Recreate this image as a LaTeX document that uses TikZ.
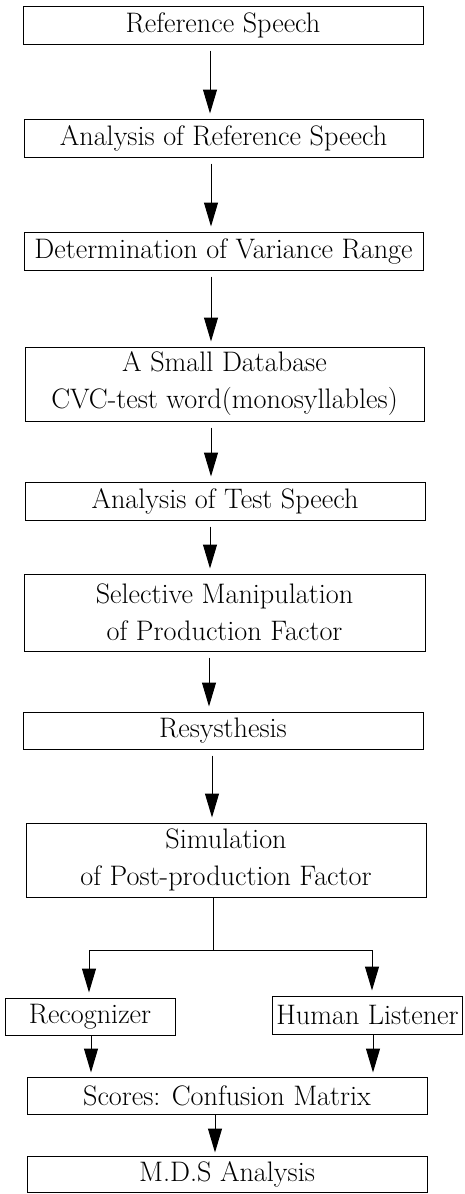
\documentclass[tikz,border=0pt]{standalone}
\usetikzlibrary{arrows.meta}
\begin{document}
\begin{tikzpicture}[x=1pt,y=-1pt,
  box/.style={draw,line width=1pt,inner sep=0pt,align=center,
    font=\fontsize{28.2}{37}\selectfont},
  arr/.style={line width=1pt,-{Triangle[length=24pt,width=14pt]},shorten <=6pt,shorten >=5pt},
  ln/.style={line width=1pt}]
\useasboundingbox (0,0) rectangle (464,1194);
\node[box,minimum width=400pt,minimum height=38pt] (b1) at (223,25) {Reference Speech};
\node[box,minimum width=399pt,minimum height=38pt] (b2) at (223.5,138) {Analysis of Reference Speech};
\node[box,minimum width=399pt,minimum height=38pt] (b3) at (223.5,251) {Determination of Variance Range};
\node[box,minimum width=399pt,minimum height=74pt] (b4) at (224.5,384) {A Small Database\\CVC-test word(monosyllables)};
\node[box,minimum width=400pt,minimum height=38pt] (b5) at (225,501) {Analysis of Test Speech};
\node[box,minimum width=401pt,minimum height=77pt] (b6) at (224.5,612.5) {Selective Manipulation\\of Production Factor};
\node[box,minimum width=400pt,minimum height=37pt] (b7) at (223,730.5) {Resysthesis};
\node[box,minimum width=400pt,minimum height=74pt] (b8) at (226,860) {Simulation\\of Post-production Factor};
\node[box,minimum width=170pt,minimum height=37pt] (rec) at (90,1016.5) {Recognizer};
\node[box,minimum width=190pt,minimum height=38pt] (hum) at (367.5,1015) {Human Listener};
\node[box,minimum width=400pt,minimum height=37pt] (sc) at (227,1095.5) {Scores: Confusion Matrix};
\node[box,minimum width=400pt,minimum height=36pt] (mds) at (227,1174) {M.D.S Analysis};
\draw[arr] ([xshift=-13pt]b1.south) -- ([xshift=-13.5pt]b2.north);
\draw[arr] ([xshift=-12.5pt]b2.south) -- ([xshift=-12.5pt]b3.north);
\draw[arr] ([xshift=-12.5pt]b3.south) -- ([xshift=-13.5pt]b4.north);
\draw[arr] ([xshift=-13.5pt]b4.south) -- ([xshift=-14pt]b5.north);
\draw[arr] ([xshift=-15pt]b5.south) -- ([xshift=-14.5pt]b6.north);
\draw[arr] ([xshift=-15.5pt]b6.south) -- ([xshift=-14pt]b7.north);
\draw[arr] ([xshift=-11pt]b7.south) -- ([xshift=-14pt]b8.north);
\coordinate (j) at (213,950);
\coordinate (jl) at (89,950);
\coordinate (jr) at (372,950);
\draw[ln] ([xshift=-13pt]b8.south) -- (j);
\draw[ln] (jl) -- (jr);
\draw[arr,shorten <=0pt] (jl) -- (rec.north -| jl);
\draw[arr,shorten <=0pt] (jr) -- (hum.north -| jr);
\draw[arr,shorten <=0pt,shorten >=4pt] ([xshift=1pt]rec.south) -- ([xshift=-136pt]sc.north);
\draw[arr,shorten <=0pt,shorten >=4pt] ([xshift=5.5pt]hum.south) -- ([xshift=146pt]sc.north);
\draw[arr,shorten <=0pt,shorten >=3pt] ([xshift=-12pt]sc.south) -- ([xshift=-12pt]mds.north);
\end{tikzpicture}
\end{document}
